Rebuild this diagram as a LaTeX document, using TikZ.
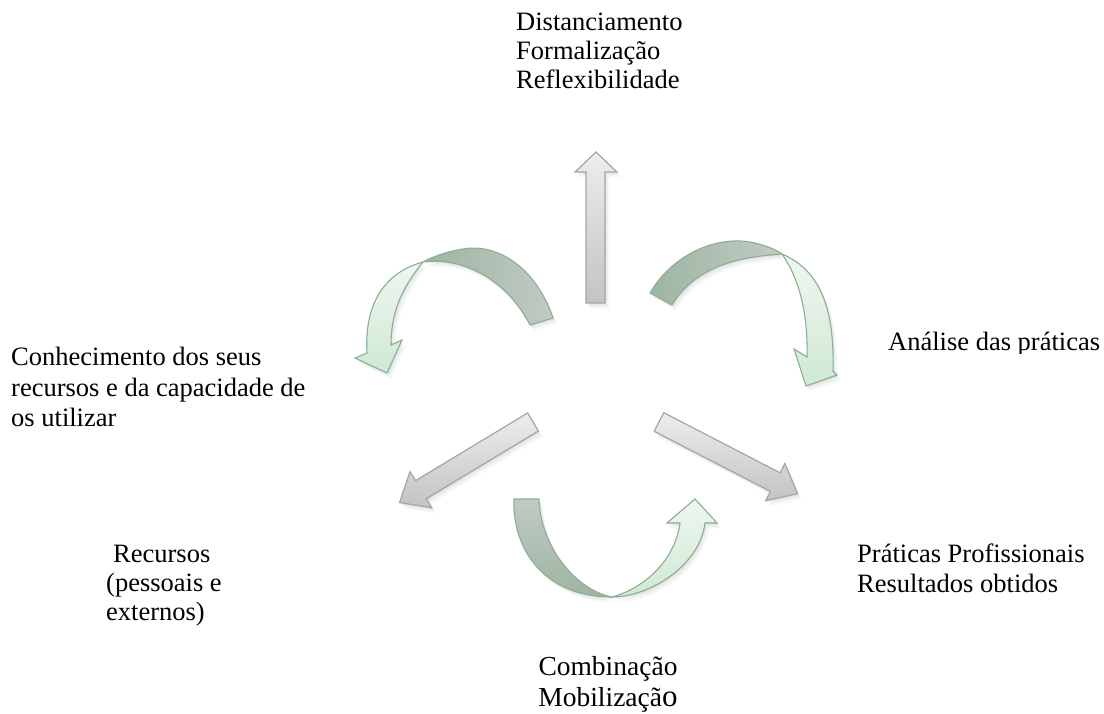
\documentclass[tikz,border=0pt]{standalone}
\usepackage{fontspec}
\setmainfont{Liberation Serif}
\definecolor{grayedge}{HTML}{A5A5A5}
\definecolor{grayhi}{HTML}{EDEDED}
\definecolor{graylo}{HTML}{C3C3C3}
\definecolor{greenedge}{HTML}{8AAF92}
\definecolor{backGreen}{HTML}{9DB5A3}
\definecolor{backGray}{HTML}{C2CAC4}
\definecolor{frontTop}{HTML}{EFF7F0}
\definecolor{frontBot}{HTML}{CFE8D5}
\tikzset{
  shadowed/.style={
    preaction={fill=black, fill opacity=0.05, transform canvas={xshift=1pt,yshift=-1.5pt}},
    preaction={fill=black, fill opacity=0.04, transform canvas={xshift=2.5pt,yshift=-3.5pt}},
    preaction={fill=black, fill opacity=0.03, transform canvas={xshift=4pt,yshift=-5.5pt}}},
  grayarrow/.style={shadowed, draw=grayedge, line width=1.2pt, line join=miter,
    top color=grayhi, bottom color=graylo},
  backband/.style={shadowed, draw=greenedge, line width=1.1pt, line join=round},
  frontband/.style={shadowed, draw=greenedge, line width=1.1pt, line join=miter,
    top color=frontTop, bottom color=frontBot},
  lbl/.style={anchor=base west, inner sep=0pt, font=\fontsize{26.5}{30}\selectfont},
  lblc/.style={anchor=base, inner sep=0pt, font=\fontsize{27.5}{30}\selectfont}
}
\begin{document}
\begin{tikzpicture}[x=1pt,y=-1pt]
\useasboundingbox (0,0) rectangle (1104,714);
\fill[white] (0,0) rectangle (1104,714);

% straight block arrows
\path[grayarrow] (586,303) -- (586,172) -- (575,172) -- (596,152) -- (617,172)
  -- (605,172) -- (605,303) -- cycle;
\path[grayarrow] (527.6,413.0) -- (415.5,480.7) -- (410.0,471.7) -- (399.5,502.6)
  -- (431.8,507.7) -- (426.3,498.7) -- (538.4,431.0) -- cycle;
\path[grayarrow] (663.8,412.7) -- (780.1,472.8) -- (784.9,463.5) -- (797.5,493.6)
  -- (765.7,500.7) -- (770.5,491.4) -- (654.2,431.3) -- cycle;

% upper-left curved arrow
\path[backband, left color=backGreen, right color=backGray]
  (553,318) .. controls (535,265) and (495,243) .. (463,249)
  .. controls (445,252) and (432,257) .. (423,262)
  .. controls (450,258) and (500,268) .. (530,325) -- cycle;
\path[frontband]
  (423,262) .. controls (386,272) and (364,302) .. (367,353)
  -- (355,358) -- (387,373) -- (402,340) -- (391,345)
  .. controls (391,315) and (400,290) .. (423,262) -- cycle;

% upper-right curved arrow
\path[backband, left color=backGreen, right color=backGray]
  (650,293) .. controls (672,255) and (715,236) .. (750,242)
  .. controls (765,245) and (775,249) .. (782,254)
  .. controls (760,256) and (700,258) .. (672,305) -- cycle;
\path[frontband]
  (782,254) .. controls (815,268) and (835,300) .. (833,371)
  -- (837,375) -- (806,386) -- (794,349) -- (807,357)
  .. controls (808,315) and (800,280) .. (782,254) -- cycle;

% bottom U-shaped arrow
\path[backband, top color=backGray, bottom color=backGreen]
  (514,499) -- (539,499) .. controls (540,545) and (575,590) .. (612,597)
  .. controls (545,597) and (512,550) .. (514,499) -- cycle;
\path[frontband]
  (612,597) .. controls (650,597) and (700,565) .. (705,523)
  -- (717,523) -- (695,499) -- (667,523) -- (680,523)
  .. controls (675,560) and (645,588) .. (612,597) -- cycle;

% labels
\node[lbl] (top1) at (516,31) {Distanciamento};
\node[lbl] (top2) at (516,60) {Formalização};
\node[lbl] (top3) at (516,89) {Reflexibilidade};

\node[lbl] (left1) at (11,366) {Conhecimento dos seus};
\node[lbl] (left2) at (11,396) {recursos e da capacidade de};
\node[lbl] (left3) at (11,426) {os utilizar};

\begin{scope}
  \clip (860,300) rectangle (1104,353);
  \node[lbl] (right1) at (888,350) {Análise das práticas};
\end{scope}

\node[lbl] (res1) at (113,562) {Recursos};
\node[lbl] (res2) at (106,591) {(pessoais e};
\node[lbl] (res3) at (106,620) {externos)};

\node[lbl] (prat1) at (857,562) {Práticas Profissionais};
\node[lbl] (prat2) at (857,592) {Resultados obtidos};

\node[lblc] (comb1) at (608,675) {Combinação};
\node[lblc] (comb2) at (608,706) {Mobilizaçã{\fontsize{31}{30}\selectfont o}};
\end{tikzpicture}
\end{document}
